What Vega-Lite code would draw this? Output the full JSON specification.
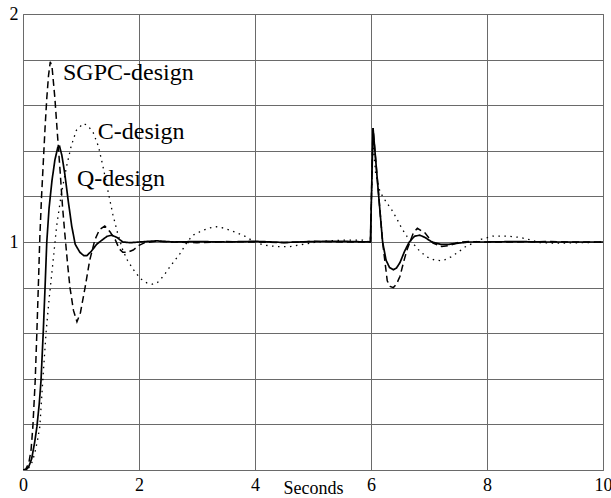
{
  "$schema": "https://vega.github.io/schema/vega-lite/v6.json",
  "autosize": "none",
  "width": 580,
  "height": 456,
  "padding": {"left": 23, "top": 14, "right": 8, "bottom": 28},
  "background": "white",
  "config": {
    "view": {"stroke": "#707070", "strokeWidth": 1},
    "font": "serif"
  },
  "datasets": {
    "curves": [
      {"t":0,"v":0,"design":"Q"},{"t":0.05,"v":0.0,"design":"Q"},{"t":0.1,"v":0.015,"design":"Q"},{"t":0.15,"v":0.05,"design":"Q"},{"t":0.2,"v":0.12,"design":"Q"},{"t":0.24,"v":0.19,"design":"Q"},{"t":0.28,"v":0.29,"design":"Q"},{"t":0.31,"v":0.39,"design":"Q"},{"t":0.35,"v":0.61,"design":"Q"},{"t":0.38,"v":0.8,"design":"Q"},{"t":0.41,"v":1.0,"design":"Q"},{"t":0.45,"v":1.15,"design":"Q"},{"t":0.5,"v":1.27,"design":"Q"},{"t":0.55,"v":1.36,"design":"Q"},{"t":0.6,"v":1.415,"design":"Q"},{"t":0.63,"v":1.42,"design":"Q"},{"t":0.67,"v":1.38,"design":"Q"},{"t":0.72,"v":1.3,"design":"Q"},{"t":0.78,"v":1.18,"design":"Q"},{"t":0.84,"v":1.07,"design":"Q"},{"t":0.9,"v":0.99,"design":"Q"},{"t":0.98,"v":0.955,"design":"Q"},{"t":1.05,"v":0.94,"design":"Q"},{"t":1.1,"v":0.94,"design":"Q"},{"t":1.18,"v":0.96,"design":"Q"},{"t":1.27,"v":0.99,"design":"Q"},{"t":1.37,"v":1.01,"design":"Q"},{"t":1.45,"v":1.025,"design":"Q"},{"t":1.53,"v":1.03,"design":"Q"},{"t":1.62,"v":1.02,"design":"Q"},{"t":1.72,"v":1.0,"design":"Q"},{"t":1.85,"v":0.997,"design":"Q"},{"t":2.0,"v":1.0,"design":"Q"},{"t":2.3,"v":1.005,"design":"Q"},{"t":2.6,"v":1.0,"design":"Q"},{"t":3.0,"v":1.002,"design":"Q"},{"t":3.5,"v":1.0,"design":"Q"},{"t":4.0,"v":1.003,"design":"Q"},{"t":4.5,"v":0.998,"design":"Q"},{"t":5.0,"v":1.002,"design":"Q"},{"t":5.5,"v":1.003,"design":"Q"},{"t":5.99,"v":1.0,"design":"Q"},{"t":6.035,"v":1.5,"design":"Q"},{"t":6.12,"v":1.24,"design":"Q"},{"t":6.2,"v":1.0,"design":"Q"},{"t":6.26,"v":0.92,"design":"Q"},{"t":6.32,"v":0.888,"design":"Q"},{"t":6.385,"v":0.878,"design":"Q"},{"t":6.44,"v":0.886,"design":"Q"},{"t":6.5,"v":0.91,"design":"Q"},{"t":6.58,"v":0.96,"design":"Q"},{"t":6.66,"v":1.0,"design":"Q"},{"t":6.75,"v":1.025,"design":"Q"},{"t":6.84,"v":1.03,"design":"Q"},{"t":6.93,"v":1.02,"design":"Q"},{"t":7.05,"v":1.0,"design":"Q"},{"t":7.2,"v":0.99,"design":"Q"},{"t":7.35,"v":0.99,"design":"Q"},{"t":7.5,"v":0.995,"design":"Q"},{"t":7.7,"v":1.0,"design":"Q"},{"t":8.0,"v":1.0,"design":"Q"},{"t":8.5,"v":1.002,"design":"Q"},{"t":9.0,"v":1.0,"design":"Q"},{"t":9.5,"v":1.0,"design":"Q"},{"t":10,"v":1.0,"design":"Q"},

      {"t":0,"v":0,"design":"SGPC"},{"t":0.05,"v":0.005,"design":"SGPC"},{"t":0.1,"v":0.03,"design":"SGPC"},{"t":0.14,"v":0.09,"design":"SGPC"},{"t":0.17,"v":0.19,"design":"SGPC"},{"t":0.21,"v":0.39,"design":"SGPC"},{"t":0.24,"v":0.61,"design":"SGPC"},{"t":0.27,"v":0.85,"design":"SGPC"},{"t":0.29,"v":1.02,"design":"SGPC"},{"t":0.32,"v":1.2,"design":"SGPC"},{"t":0.35,"v":1.35,"design":"SGPC"},{"t":0.38,"v":1.5,"design":"SGPC"},{"t":0.41,"v":1.63,"design":"SGPC"},{"t":0.44,"v":1.73,"design":"SGPC"},{"t":0.47,"v":1.79,"design":"SGPC"},{"t":0.5,"v":1.77,"design":"SGPC"},{"t":0.55,"v":1.63,"design":"SGPC"},{"t":0.6,"v":1.45,"design":"SGPC"},{"t":0.64,"v":1.31,"design":"SGPC"},{"t":0.68,"v":1.16,"design":"SGPC"},{"t":0.72,"v":1.04,"design":"SGPC"},{"t":0.77,"v":0.9,"design":"SGPC"},{"t":0.81,"v":0.8,"design":"SGPC"},{"t":0.87,"v":0.7,"design":"SGPC"},{"t":0.93,"v":0.65,"design":"SGPC"},{"t":0.99,"v":0.69,"design":"SGPC"},{"t":1.07,"v":0.8,"design":"SGPC"},{"t":1.15,"v":0.92,"design":"SGPC"},{"t":1.24,"v":1.01,"design":"SGPC"},{"t":1.32,"v":1.055,"design":"SGPC"},{"t":1.41,"v":1.07,"design":"SGPC"},{"t":1.5,"v":1.045,"design":"SGPC"},{"t":1.59,"v":1.01,"design":"SGPC"},{"t":1.66,"v":0.97,"design":"SGPC"},{"t":1.72,"v":0.955,"design":"SGPC"},{"t":1.8,"v":0.955,"design":"SGPC"},{"t":1.9,"v":0.965,"design":"SGPC"},{"t":2.0,"v":0.985,"design":"SGPC"},{"t":2.1,"v":0.997,"design":"SGPC"},{"t":2.3,"v":1.003,"design":"SGPC"},{"t":2.6,"v":1.0,"design":"SGPC"},{"t":3.0,"v":0.997,"design":"SGPC"},{"t":3.5,"v":1.002,"design":"SGPC"},{"t":4.0,"v":1.0,"design":"SGPC"},{"t":4.5,"v":0.997,"design":"SGPC"},{"t":5.0,"v":1.003,"design":"SGPC"},{"t":5.5,"v":1.0,"design":"SGPC"},{"t":5.99,"v":1.0,"design":"SGPC"},{"t":6.035,"v":1.5,"design":"SGPC"},{"t":6.2,"v":1.0,"design":"SGPC"},{"t":6.28,"v":0.83,"design":"SGPC"},{"t":6.33,"v":0.805,"design":"SGPC"},{"t":6.385,"v":0.8,"design":"SGPC"},{"t":6.44,"v":0.815,"design":"SGPC"},{"t":6.5,"v":0.85,"design":"SGPC"},{"t":6.56,"v":0.91,"design":"SGPC"},{"t":6.62,"v":0.965,"design":"SGPC"},{"t":6.73,"v":1.04,"design":"SGPC"},{"t":6.8,"v":1.06,"design":"SGPC"},{"t":6.93,"v":1.04,"design":"SGPC"},{"t":7.07,"v":0.995,"design":"SGPC"},{"t":7.22,"v":0.98,"design":"SGPC"},{"t":7.36,"v":0.985,"design":"SGPC"},{"t":7.53,"v":1.0,"design":"SGPC"},{"t":7.7,"v":1.002,"design":"SGPC"},{"t":8.0,"v":1.0,"design":"SGPC"},{"t":8.5,"v":1.0,"design":"SGPC"},{"t":9.0,"v":1.002,"design":"SGPC"},{"t":9.5,"v":1.0,"design":"SGPC"},{"t":10,"v":1.0,"design":"SGPC"},

      {"t":0,"v":0,"design":"C"},{"t":0.05,"v":0.0,"design":"C"},{"t":0.1,"v":0.01,"design":"C"},{"t":0.15,"v":0.03,"design":"C"},{"t":0.2,"v":0.07,"design":"C"},{"t":0.25,"v":0.13,"design":"C"},{"t":0.29,"v":0.19,"design":"C"},{"t":0.34,"v":0.39,"design":"C"},{"t":0.4,"v":0.61,"design":"C"},{"t":0.45,"v":0.75,"design":"C"},{"t":0.5,"v":0.87,"design":"C"},{"t":0.58,"v":1.07,"design":"C"},{"t":0.66,"v":1.21,"design":"C"},{"t":0.75,"v":1.33,"design":"C"},{"t":0.83,"v":1.42,"design":"C"},{"t":0.92,"v":1.49,"design":"C"},{"t":1.04,"v":1.52,"design":"C"},{"t":1.12,"v":1.51,"design":"C"},{"t":1.21,"v":1.48,"design":"C"},{"t":1.3,"v":1.42,"design":"C"},{"t":1.38,"v":1.33,"design":"C"},{"t":1.46,"v":1.23,"design":"C"},{"t":1.55,"v":1.12,"design":"C"},{"t":1.63,"v":1.04,"design":"C"},{"t":1.72,"v":0.965,"design":"C"},{"t":1.8,"v":0.92,"design":"C"},{"t":1.9,"v":0.88,"design":"C"},{"t":2.02,"v":0.84,"design":"C"},{"t":2.14,"v":0.82,"design":"C"},{"t":2.23,"v":0.815,"design":"C"},{"t":2.31,"v":0.82,"design":"C"},{"t":2.42,"v":0.85,"design":"C"},{"t":2.53,"v":0.89,"design":"C"},{"t":2.71,"v":0.95,"design":"C"},{"t":2.83,"v":1.0,"design":"C"},{"t":2.93,"v":1.03,"design":"C"},{"t":3.05,"v":1.045,"design":"C"},{"t":3.19,"v":1.06,"design":"C"},{"t":3.34,"v":1.067,"design":"C"},{"t":3.48,"v":1.06,"design":"C"},{"t":3.69,"v":1.04,"design":"C"},{"t":3.83,"v":1.025,"design":"C"},{"t":3.95,"v":1.007,"design":"C"},{"t":4.14,"v":0.987,"design":"C"},{"t":4.37,"v":0.98,"design":"C"},{"t":4.6,"v":0.98,"design":"C"},{"t":4.83,"v":0.99,"design":"C"},{"t":5.06,"v":1.0,"design":"C"},{"t":5.29,"v":1.005,"design":"C"},{"t":5.52,"v":1.008,"design":"C"},{"t":5.86,"v":1.008,"design":"C"},{"t":5.99,"v":1.0,"design":"C"},{"t":6.035,"v":1.45,"design":"C"},{"t":6.08,"v":1.3,"design":"C"},{"t":6.155,"v":1.22,"design":"C"},{"t":6.25,"v":1.18,"design":"C"},{"t":6.36,"v":1.14,"design":"C"},{"t":6.45,"v":1.1,"design":"C"},{"t":6.53,"v":1.06,"design":"C"},{"t":6.62,"v":1.025,"design":"C"},{"t":6.72,"v":0.995,"design":"C"},{"t":6.84,"v":0.96,"design":"C"},{"t":6.96,"v":0.935,"design":"C"},{"t":7.1,"v":0.92,"design":"C"},{"t":7.24,"v":0.918,"design":"C"},{"t":7.38,"v":0.935,"design":"C"},{"t":7.5,"v":0.955,"design":"C"},{"t":7.62,"v":0.978,"design":"C"},{"t":7.76,"v":0.995,"design":"C"},{"t":7.9,"v":1.012,"design":"C"},{"t":8.1,"v":1.026,"design":"C"},{"t":8.34,"v":1.026,"design":"C"},{"t":8.57,"v":1.02,"design":"C"},{"t":8.74,"v":1.01,"design":"C"},{"t":8.91,"v":0.997,"design":"C"},{"t":9.2,"v":0.995,"design":"C"},{"t":9.5,"v":0.996,"design":"C"},{"t":9.8,"v":0.998,"design":"C"},{"t":10,"v":1.0,"design":"C"}
    ],
    "labels": [
      {"label":"SGPC-design","t":0.69,"v":1.71},
      {"label":"C-design","t":1.29,"v":1.45},
      {"label":"Q-design","t":0.93,"v":1.246}
    ]
  },
  "layer": [
    {
      "data": {"name": "curves"},
      "mark": {"type": "line", "color": "black", "clip": true},
      "encoding": {
        "x": {
          "field": "t", "type": "quantitative",
          "scale": {"domain": [0, 10], "nice": false, "zero": false},
          "axis": {
            "values": [0, 2, 4, 6, 8, 10], "format": "d",
            "grid": true, "gridColor": "#6a6a6a", "gridWidth": 1,
            "domain": false, "ticks": false,
            "labelFont": "serif", "labelFontSize": 18, "labelColor": "black",
            "labelPadding": 6, "labelFlush": false, "labelOverlap": false, "labelBound": false,
            "title": "Seconds", "titleFont": "serif", "titleFontSize": 18,
            "titleFontWeight": "normal", "titleColor": "black",
            "titleBaseline": "top", "titleY": 9
          }
        },
        "y": {
          "field": "v", "type": "quantitative",
          "scale": {"domain": [0, 2], "nice": false},
          "axis": {
            "values": [0, 0.2, 0.4, 0.6, 0.8, 1, 1.2, 1.4, 1.6, 1.8, 2],
            "labelExpr": "datum.value == 1 ? '1' : (datum.value == 2 ? '2' : '')",
            "grid": true, "gridColor": "#6a6a6a", "gridWidth": 1,
            "domain": false, "ticks": false,
            "labelFont": "serif", "labelFontSize": 18, "labelColor": "black",
            "labelPadding": 5, "labelOverlap": false, "labelBound": false,
            "title": null
          }
        },
        "strokeDash": {
          "field": "design", "type": "nominal",
          "scale": {"domain": ["Q", "SGPC", "C"], "range": [[1, 0], [7, 4], [1.5, 4.5]]},
          "legend": null
        },
        "strokeWidth": {
          "field": "design", "type": "nominal",
          "scale": {"domain": ["Q", "SGPC", "C"], "range": [1.7, 1.3, 1.5]},
          "legend": null
        }
      }
    },
    {
      "data": {"name": "labels"},
      "mark": {"type": "text", "align": "left", "baseline": "alphabetic", "font": "serif", "fontSize": 24, "color": "black"},
      "encoding": {
        "x": {"field": "t", "type": "quantitative"},
        "y": {"field": "v", "type": "quantitative"},
        "text": {"field": "label"}
      }
    }
  ]
}
